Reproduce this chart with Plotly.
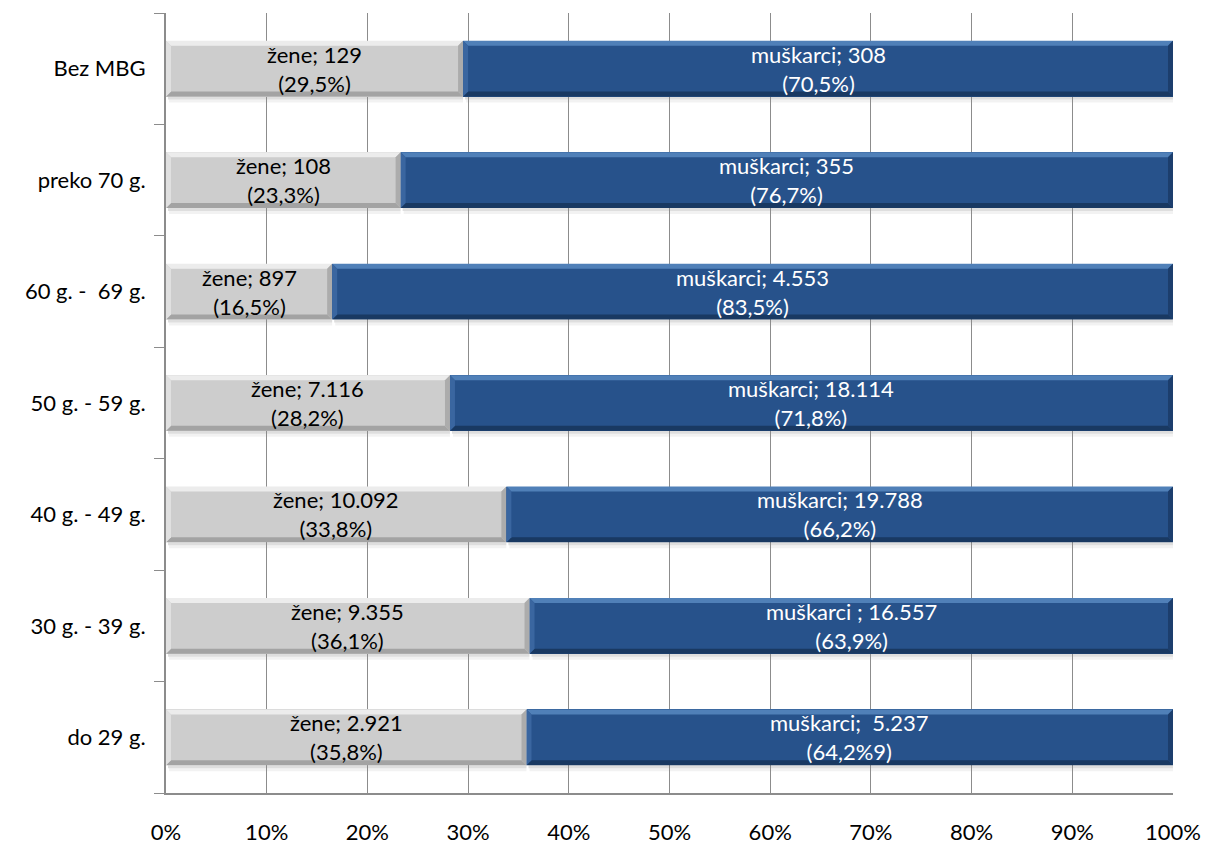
import plotly.graph_objects as go

categories = ["do 29 g.", "30 g. - 39 g.", "40 g. - 49 g.", "50 g. - 59 g.",
              "60 g. -  69 g.", "preko 70 g.", "Bez MBG"]
zene_pct = [35.8, 36.1, 33.8, 28.2, 16.5, 23.3, 29.5]
muskarci_pct = [64.2, 63.9, 66.2, 71.8, 83.5, 76.7, 70.5]
zene_labels = ["žene; 2.921<br>(35,8%)", "žene; 9.355<br>(36,1%)", "žene; 10.092<br>(33,8%)",
               "žene; 7.116<br>(28,2%)", "žene; 897<br>(16,5%)", "žene; 108<br>(23,3%)",
               "žene; 129<br>(29,5%)"]
muskarci_labels = ["muškarci;  5.237<br>(64,2%9)", "muškarci ; 16.557<br>(63,9%)",
                   "muškarci; 19.788<br>(66,2%)", "muškarci; 18.114<br>(71,8%)",
                   "muškarci; 4.553<br>(83,5%)", "muškarci; 355<br>(76,7%)",
                   "muškarci; 308<br>(70,5%)"]
x_ticks = [0, 10, 20, 30, 40, 50, 60, 70, 80, 90, 100]
x_tick_labels = ["0%", "10%", "20%", "30%", "40%", "50%", "60%", "70%", "80%", "90%", "100%"]

FONT = "Lato, 'Open Sans', sans-serif"
W, H = 1206, 846
ML, MR, MT, MB = 166, 33, 13, 53
BAR_W = 0.5

ypos = list(range(len(categories)))
px_x = 100.0 / (W - ML - MR)           # data units per pixel (x)
px_y = len(categories) / (H - MT - MB)  # data units per pixel (y)

fig = go.Figure()
series = [
    (zene_pct, dict(body="#cdcdcd", top="#ececec", left="#e0e0e0", bottom="#a3a3a3", right="#acacac")),
    (muskarci_pct, dict(body="#27528b", top="#5080b8", left="#3a66a0", bottom="#193962", right="#1c3e6d")),
]
for vals, col in series:
    fig.add_trace(go.Bar(
        y=ypos, x=vals, orientation="h", width=BAR_W,
        marker=dict(color=col["body"], line=dict(width=0)),
        hoverinfo="skip",
    ))


def path(pts):
    return "M " + " L ".join(f"{px},{py}" for px, py in pts) + " Z"


shapes = []
annotations = []
base = [0.0] * len(categories)
for s_idx, (vals, col) in enumerate(series):
    labels = zene_labels if s_idx == 0 else muskarci_labels
    tcolor = "#000000" if s_idx == 0 else "#ffffff"
    for i, v in enumerate(vals):
        x0, x1 = base[i], base[i] + v
        y0, y1 = ypos[i] - BAR_W / 2, ypos[i] + BAR_W / 2
        dx, dy = 5 * px_x, 5 * px_y
        # drop shadow
        shapes.append(dict(type="rect", xref="x", yref="y", layer="below",
                           x0=x0 + 2 * px_x, x1=x1, y0=y0 - 3 * px_y, y1=y0,
                           fillcolor="rgba(0,0,0,0.13)", line=dict(width=0)))
        shapes.append(dict(type="rect", xref="x", yref="y", layer="below",
                           x0=x0 + 3 * px_x, x1=x1, y0=y0 - 6 * px_y, y1=y0 - 3 * px_y,
                           fillcolor="rgba(0,0,0,0.05)", line=dict(width=0)))
        # bevels
        shapes.append(dict(type="path", xref="x", yref="y", layer="above",
                           path=path([(x0, y1), (x1, y1), (x1 - dx, y1 - dy), (x0 + dx, y1 - dy)]),
                           fillcolor=col["top"], line=dict(width=0)))
        shapes.append(dict(type="path", xref="x", yref="y", layer="above",
                           path=path([(x0, y0), (x1, y0), (x1 - dx, y0 + dy), (x0 + dx, y0 + dy)]),
                           fillcolor=col["bottom"], line=dict(width=0)))
        shapes.append(dict(type="path", xref="x", yref="y", layer="above",
                           path=path([(x0, y0), (x0 + dx, y0 + dy), (x0 + dx, y1 - dy), (x0, y1)]),
                           fillcolor=col["left"], line=dict(width=0)))
        shapes.append(dict(type="path", xref="x", yref="y", layer="above",
                           path=path([(x1, y0), (x1 - dx, y0 + dy), (x1 - dx, y1 - dy), (x1, y1)]),
                           fillcolor=col["right"], line=dict(width=0)))
        annotations.append(dict(x=(x0 + x1) / 2, y=ypos[i], xref="x", yref="y",
                                text=labels[i], showarrow=False,
                                font=dict(family=FONT, size=22, color=tcolor),
                                xanchor="center", yanchor="middle", align="center"))
        base[i] = x1

fig.update_layout(
    barmode="stack",
    width=W, height=H,
    margin=dict(l=ML, r=MR, t=MT, b=MB),
    plot_bgcolor="white", paper_bgcolor="white",
    showlegend=False,
    font=dict(family=FONT, size=22, color="#000000"),
    shapes=shapes, annotations=annotations,
)
fig.update_xaxes(
    range=[0, 100], tickvals=x_ticks, ticktext=x_tick_labels,
    showgrid=True, gridcolor="#8c8c8c", gridwidth=1,
    showline=True, linecolor="#8c8c8c", linewidth=2,
    ticks="", zeroline=False, ticklabelstandoff=19, automargin=False,
    tickfont=dict(family=FONT, size=22, color="#000000"),
)
fig.update_yaxes(
    range=[-0.5, len(categories) - 0.5],
    tickvals=ypos, ticktext=categories,
    showgrid=False, showline=True, linecolor="#8c8c8c", linewidth=2,
    zeroline=False, ticks="", automargin=False,
    minor=dict(tick0=-0.5, dtick=1, ticks="outside", ticklen=10,
               tickcolor="#8c8c8c", tickwidth=1, showgrid=False),
    ticklabelstandoff=14,
    tickfont=dict(family=FONT, size=22, color="#000000"),
)

fig.write_html("out.html",
               config={"displayModeBar": False},
               post_script="document.body.style.margin='0';document.body.style.overflow='hidden';")
